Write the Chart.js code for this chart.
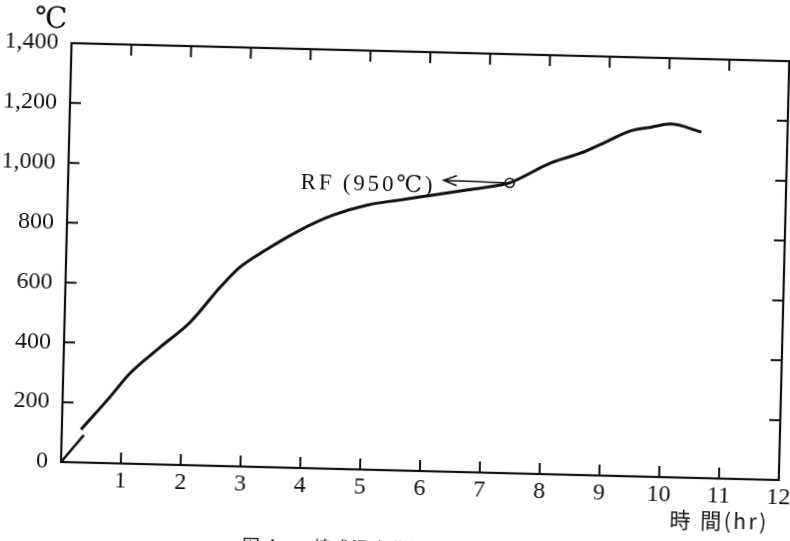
<!DOCTYPE html>
<html><head><meta charset="utf-8">
<script src="https://cdn.jsdelivr.net/npm/chart.js@4"></script>
<style>
html,body{margin:0;padding:0;background:#fff;overflow:hidden;width:790px;height:541px;}
#wrap{position:absolute;left:-20px;top:0;width:830px;height:580px;transform-origin:81px 462px;transform:rotate(1.44deg);}
canvas{display:block;}
</style></head><body>
<div id="wrap"><canvas id="c" width="830" height="580"></canvas></div>
<script>
// ---- data ----
const startHours = [0, 0.37];
const startTemps = [0, 92];
const hours = [0.32, 0.79, 1.12, 1.61, 2.10, 2.59, 2.91, 3.33, 3.90, 4.45, 5.01, 5.56, 6.11, 6.68, 7.23, 7.38, 8.06, 8.56, 8.97, 9.38, 9.72, 10.05, 10.56];
const temps = [110, 221, 303, 392, 478, 598, 666, 725, 795, 848, 884, 904, 923, 943, 962, 970, 1040, 1076, 1115, 1154, 1168, 1180, 1156];
const rfHours = [7.38];
const rfTemps = [970];
const xTickValues = [1, 2, 3, 4, 5, 6, 7, 8, 9, 10, 11, 12];
const yTickValues = [0, 200, 400, 600, 800, 1000, 1200, 1400];
const xInnerTicks = [1, 2, 3, 4, 5, 6, 7, 8, 9, 10, 11];
const yInnerTicks = [200, 400, 600, 800, 1000, 1200];
const rfLabel = 'RF (950℃)';
const yUnit = '℃';
const xTitle = '時 間(hr)';
const captionNo = '図 4';
const captionText = '焼成温度曲線';

const SERIF = '"Liberation Serif", "DejaVu Serif", "Noto Sans CJK JP", serif';
const CJK = '"Noto Sans CJK JP", sans-serif';

const decor = {
  id: 'decor',
  beforeDatasetsDraw(chart) {
    const {ctx, chartArea: a, scales: {x, y}} = chart;
    ctx.save();
    ctx.strokeStyle = '#111';
    ctx.lineWidth = 2.2;
    ctx.strokeRect(a.left, a.top, a.right - a.left, a.bottom - a.top);
    ctx.lineWidth = 2;
    ctx.beginPath();
    xInnerTicks.forEach(v => {
      const px = x.getPixelForValue(v);
      ctx.moveTo(px, a.bottom); ctx.lineTo(px, a.bottom - 11);
      ctx.moveTo(px, a.top); ctx.lineTo(px, a.top + 11);
    });
    yInnerTicks.forEach(v => {
      const py = y.getPixelForValue(v);
      ctx.moveTo(a.left, py); ctx.lineTo(a.left + 11, py);
      ctx.moveTo(a.right, py); ctx.lineTo(a.right - 11, py);
    });
    ctx.stroke();
    ctx.restore();
  },
  afterDraw(chart) {
    const {ctx, chartArea: a, scales: {x, y}} = chart;
    ctx.save();
    ctx.fillStyle = '#111';
    // unit
    ctx.font = '29px ' + SERIF;
    ctx.textAlign = 'center';
    ctx.textBaseline = 'middle';
    ctx.fillText(yUnit, a.left - 21, a.top - 23);
    // x title
    ctx.font = '21px ' + CJK;
    ctx.textAlign = 'right';
    ctx.letterSpacing = '2.5px';
    ctx.fillText(xTitle, a.right - 9, a.bottom + 42);
    // RF annotation
    const mx = x.getPixelForValue(rfHours[0]);
    const my = y.getPixelForValue(rfTemps[0]);
    ctx.font = '23px ' + SERIF;
    ctx.textAlign = 'left';
    ctx.letterSpacing = '2.8px';
    ctx.fillText(rfLabel, mx - 209, my + 5);
    ctx.letterSpacing = '0px';
    ctx.strokeStyle = '#111';
    ctx.lineWidth = 1.6;
    const tx = mx - 66, ty = my - 1;
    ctx.beginPath();
    ctx.moveTo(tx, ty); ctx.lineTo(mx - 5, my);
    ctx.moveTo(tx + 13, ty - 5); ctx.lineTo(tx, ty); ctx.lineTo(tx + 13, ty + 5);
    ctx.stroke();
    // caption (cut off by the page edge, as in the scan)
    ctx.font = '18px ' + CJK;
    ctx.textBaseline = 'alphabetic';
    ctx.letterSpacing = '1px';
    ctx.fillText(captionNo, a.left + 183, a.bottom + 86);
    ctx.fillText(captionText, a.left + 254, a.bottom + 86);
    ctx.restore();
  }
};

new Chart(document.getElementById('c'), {
  type: 'line',
  data: {
    datasets: [
      {data: startHours.map((h, i) => ({x: h, y: startTemps[i]})), borderColor: '#111', borderWidth: 2.6, pointRadius: 0, tension: 0},
      {data: hours.map((h, i) => ({x: h, y: temps[i]})), borderColor: '#111', borderWidth: 3, pointRadius: 0, cubicInterpolationMode: 'monotone'},
      {data: rfHours.map((h, i) => ({x: h, y: rfTemps[i]})), showLine: false, pointRadius: 4.5, pointBackgroundColor: '#fff', pointBorderColor: '#111', pointBorderWidth: 1.6}
    ]
  },
  options: {
    responsive: false,
    animation: false,
    devicePixelRatio: 1,
    layout: {padding: {top: 43, right: 31, left: 0, bottom: 78}},
    plugins: {legend: {display: false}, tooltip: {enabled: false}},
    scales: {
      x: {
        type: 'linear', min: 0, max: 12,
        grid: {display: false}, border: {display: false},
        afterBuildTicks: s => { s.ticks = xTickValues.map(v => ({value: v})); },
        afterFit: s => { s.height = 40; },
        ticks: {padding: -5, color: '#111', maxRotation: 0, autoSkip: false, font: {family: SERIF, size: 24}}
      },
      y: {
        min: 0, max: 1400,
        grid: {display: false}, border: {display: false},
        afterBuildTicks: s => { s.ticks = yTickValues.map(v => ({value: v})); },
        afterFit: s => { s.width = 81; },
        ticks: {padding: 5, color: '#111', font: {family: SERIF, size: 24}, callback: v => v.toLocaleString('en-US')}
      }
    }
  },
  plugins: [decor]
});
</script>
</body></html>
